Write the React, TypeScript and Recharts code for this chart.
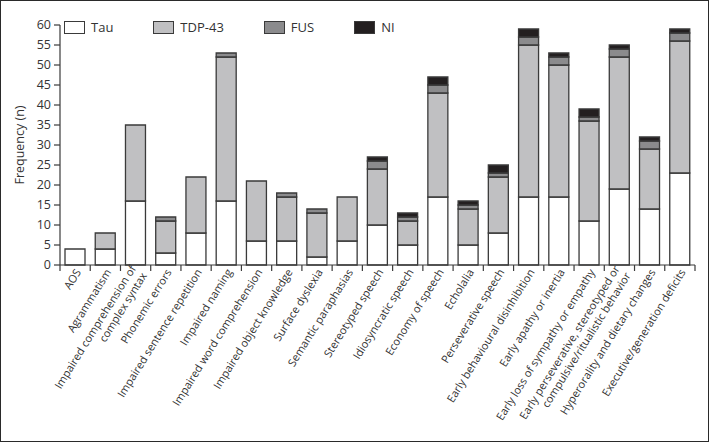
import React from 'react';
import { BarChart, Bar, XAxis, YAxis } from 'recharts';

const categories = [
  'AOS',
  'Agrammatism',
  'Impaired comprehension of\ncomplex syntax',
  'Phonemic errors',
  'Impaired sentence repetition',
  'Impaired naming',
  'Impaired word comprehension',
  'Impaired object knowledge',
  'Surface dyslexia',
  'Semantic paraphasias',
  'Stereotyped speech',
  'Idiosyncratic speech',
  'Economy of speech',
  'Echolalia',
  'Perseverative speech',
  'Early behavioural disinhibition',
  'Early apathy or inertia',
  'Early loss of sympathy or empathy',
  'Early perseverative, stereotyped or\ncompulsive/ritualistic behavior',
  'Hyperorality and dietary changes',
  'Executive/generation deficits',
];

const tau = [4, 4, 16, 3, 8, 16, 6, 6, 2, 6, 10, 5, 17, 5, 8, 17, 17, 11, 19, 14, 23];
const tdp43 = [0, 4, 19, 8, 14, 36, 15, 11, 11, 11, 14, 6, 26, 9, 14, 38, 33, 25, 33, 15, 33];
const fus = [0, 0, 0, 1, 0, 1, 0, 1, 1, 0, 2, 1, 2, 1, 1, 2, 2, 1, 2, 2, 2];
const ni = [0, 0, 0, 0, 0, 0, 0, 0, 0, 0, 1, 1, 2, 1, 2, 2, 1, 2, 1, 1, 1];

const yTicks = [0, 5, 10, 15, 20, 25, 30, 35, 40, 45, 50, 55, 60];

const series = [
  { key: 'tau', name: 'Tau', color: '#ffffff' },
  { key: 'tdp', name: 'TDP-43', color: '#c0c0c2' },
  { key: 'fus', name: 'FUS', color: '#8b8b8d' },
  { key: 'ni', name: 'NI', color: '#231f20' },
];

const data = categories.map((name, i) => ({
  name,
  tau: tau[i],
  tdp: tdp43[i],
  fus: fus[i],
  ni: ni[i],
}));

const FONT = '"Open Sans", "DejaVu Sans", sans-serif';
const EDGE = '#3a3a3a';
const PLOT_LEFT = 60;
const PLOT_RIGHT = 695;
const BAND = (PLOT_RIGHT - PLOT_LEFT) / categories.length;

const CategoryTick = (props: any) => {
  const { x, y, payload, index } = props;
  const lines = String(payload.value).split('\n');
  const lh = 13;
  const start = (-(lines.length - 1) / 2) * lh;
  return (
    <g>
      <line x1={x - BAND / 2} y1={y} x2={x - BAND / 2} y2={y + 6} stroke={EDGE} strokeWidth={1.2} />
      {index === categories.length - 1 && (
        <line x1={x + BAND / 2} y1={y} x2={x + BAND / 2} y2={y + 6} stroke={EDGE} strokeWidth={1.2} />
      )}
      <g transform={`translate(${x + 3},${y + 5}) rotate(-58)`}>
        <text textAnchor="end" fontSize={11} fill="#333" fontFamily={FONT}>
          {lines.map((l, i) => (
            <tspan key={i} x={0} y={start + i * lh} dy="0.35em">
              {l}
            </tspan>
          ))}
        </text>
      </g>
    </g>
  );
};

const LegendBox = () => (
  <div
    style={{
      position: 'absolute',
      left: 63,
      top: 17,
      display: 'flex',
      gap: 40,
      fontFamily: FONT,
      fontSize: 13,
      color: '#333',
    }}
  >
    {series.map((s) => (
      <div key={s.key} style={{ display: 'flex', alignItems: 'center' }}>
        <span
          style={{
            display: 'inline-block',
            width: 19,
            height: 11,
            background: s.color,
            border: `1.3px solid ${EDGE}`,
            marginRight: 6,
          }}
        />
        <span>{s.name}</span>
      </div>
    ))}
  </div>
);

export default function App() {
  return (
    <div
      style={{
        position: 'absolute',
        left: 0,
        top: 0,
        width: 709,
        height: 442,
        boxSizing: 'border-box',
        border: '1.5px solid #2a2a2a',
        background: '#fff',
        overflow: 'hidden',
      }}
    >
      <div style={{ position: 'absolute', left: -1.5, top: -1.5 }}>
        <BarChart
          width={709}
          height={442}
          data={data}
          margin={{ top: 25, right: 709 - PLOT_RIGHT, bottom: 0, left: 0 }}
          barSize={20}
        >
          <XAxis
            dataKey="name"
            interval={0}
            height={177}
            tickSize={0}
            tickMargin={0}
            tick={<CategoryTick />}
            axisLine={{ stroke: EDGE, strokeWidth: 1.2 }}
          />
          <YAxis
            width={PLOT_LEFT}
            domain={[0, 60]}
            ticks={yTicks}
            interval={0}
            tickSize={6}
            tickMargin={3}
            tick={{ fontSize: 12.5, fill: '#333', fontFamily: FONT }}
            tickLine={{ stroke: EDGE, strokeWidth: 1.2 }}
            axisLine={{ stroke: EDGE, strokeWidth: 1.2 }}
            label={{
              value: 'Frequency (n)',
              angle: -90,
              position: 'insideLeft',
              offset: 20,
              style: { fontSize: 12.5, fill: '#333', fontFamily: FONT, textAnchor: 'middle' },
            }}
          />
          {series.map((s) => (
            <Bar
              key={s.key}
              dataKey={s.key}
              name={s.name}
              stackId="a"
              fill={s.color}
              stroke={EDGE}
              strokeWidth={1.3}
              isAnimationActive={false}
            />
          ))}
        </BarChart>
      </div>
      <LegendBox />
    </div>
  );
}
